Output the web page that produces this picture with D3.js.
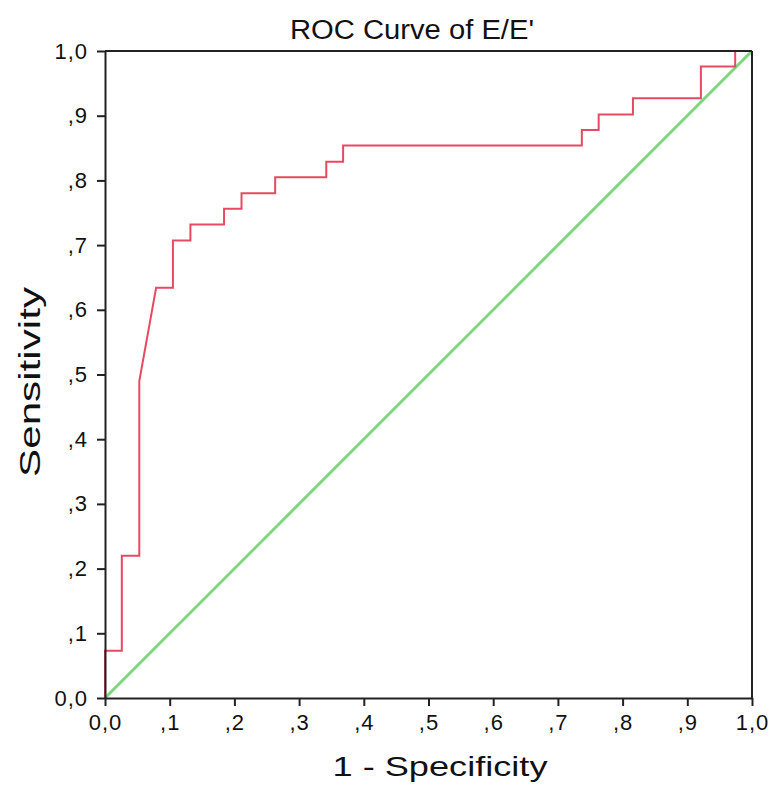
<!DOCTYPE html>
<html>
<head>
<meta charset="utf-8">
<script src="https://cdn.jsdelivr.net/npm/d3@7"></script>
<style>
  html, body { margin: 0; padding: 0; background: #fff; }
  svg { display: block; }
  text { font-family: "Liberation Sans", Arial, Helvetica, sans-serif; fill: #111; }
</style>
</head>
<body>
<svg id="chart" width="771" height="796"></svg>
<script>
// ROC curve points (1 - specificity, sensitivity)
const fpr = [0, 0, 0.026, 0.026, 0.053, 0.053, 0.079, 0.105, 0.105, 0.132, 0.132, 0.184, 0.184, 0.211, 0.211, 0.263, 0.263, 0.342, 0.342, 0.368, 0.368, 0.737, 0.737, 0.763, 0.763, 0.816, 0.816, 0.921, 0.921, 0.974, 0.974, 1];
const tpr = [0, 0.073, 0.073, 0.22, 0.22, 0.49, 0.634, 0.634, 0.707, 0.707, 0.732, 0.732, 0.756, 0.756, 0.78, 0.78, 0.805, 0.805, 0.829, 0.829, 0.854, 0.854, 0.878, 0.878, 0.902, 0.902, 0.927, 0.927, 0.976, 0.976, 1, 1];
const refX = [0, 1];
const refY = [0, 1];
const tickValues = [0, 0.1, 0.2, 0.3, 0.4, 0.5, 0.6, 0.7, 0.8, 0.9, 1.0];
const tickLabels = ["0,0", ",1", ",2", ",3", ",4", ",5", ",6", ",7", ",8", ",9", "1,0"];
const title = "ROC Curve of E/E'";
const xTitle = "1 - Specificity";
const yTitle = "Sensitivity";

const svg = d3.select("#chart");
const mLeft = 105, mRight = 752, mTop = 51, mBottom = 698;
const x = d3.scaleLinear().domain([0, 1]).range([mLeft, mRight]);
const y = d3.scaleLinear().domain([0, 1]).range([mBottom, mTop]);

// Reference diagonal
svg.append("path")
  .datum(refX.map((v, i) => [v, refY[i]]))
  .attr("d", d3.line().x(d => x(d[0])).y(d => y(d[1])))
  .attr("fill", "none")
  .attr("stroke", "#7fd67f")
  .attr("stroke-width", 3);

// ROC curve
svg.append("path")
  .datum(fpr.map((v, i) => [v, tpr[i]]))
  .attr("d", d3.line().x(d => x(d[0])).y(d => y(d[1])))
  .attr("fill", "none")
  .attr("stroke", "#e64a62")
  .attr("stroke-width", 2);

// Frame (top & right)
svg.append("line").attr("x1", mLeft).attr("x2", mRight).attr("y1", mTop).attr("y2", mTop)
  .attr("stroke", "#222").attr("stroke-width", 2);
svg.append("line").attr("x1", mRight).attr("x2", mRight).attr("y1", mTop).attr("y2", mBottom)
  .attr("stroke", "#222").attr("stroke-width", 2);

const fmt = d => tickLabels[tickValues.indexOf(d)];

const xAxis = svg.append("g").attr("transform", `translate(0,${mBottom})`)
  .call(d3.axisBottom(x).tickValues(tickValues).tickFormat(fmt).tickSize(8).tickSizeOuter(0).tickPadding(8));
const yAxis = svg.append("g").attr("transform", `translate(${mLeft},0)`)
  .call(d3.axisLeft(y).tickValues(tickValues).tickFormat(fmt).tickSize(8).tickSizeOuter(0).tickPadding(9));

[xAxis, yAxis].forEach(g => {
  g.select(".domain").attr("stroke", "#222").attr("stroke-width", 2);
  g.selectAll(".tick line").attr("stroke", "#222").attr("stroke-width", 2);
  g.selectAll(".tick text")
    .style("font-family", '"Liberation Sans", Arial, sans-serif')
    .style("letter-spacing", "1px")
    .attr("font-size", 22).attr("fill", "#111");
});

svg.append("text").attr("x", 412).attr("y", 39).attr("text-anchor", "middle")
  .attr("font-size", 27).attr("textLength", 244).attr("lengthAdjust", "spacingAndGlyphs")
  .text(title);

svg.append("text").attr("x", 440).attr("y", 776).attr("text-anchor", "middle")
  .attr("font-size", 28).attr("textLength", 215).attr("lengthAdjust", "spacingAndGlyphs")
  .text(xTitle);

svg.append("text").attr("transform", "translate(40,382) rotate(-90)").attr("text-anchor", "middle")
  .attr("font-size", 30).attr("textLength", 190).attr("lengthAdjust", "spacingAndGlyphs")
  .text(yTitle);
</script>
</body>
</html>
